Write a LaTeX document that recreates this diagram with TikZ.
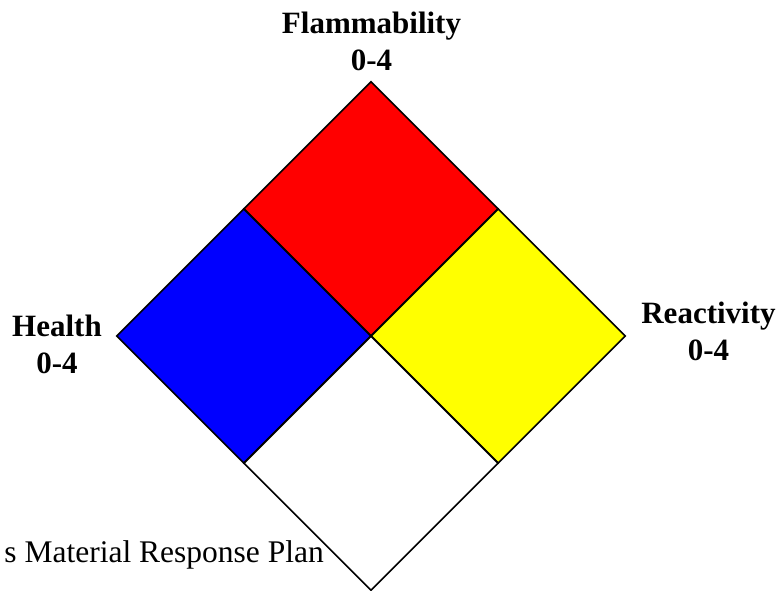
\documentclass[tikz,border=0pt]{standalone}
\usepackage{fontspec}
\setmainfont{Liberation Serif}
\usetikzlibrary{shapes.geometric}
\definecolor{fire}{HTML}{FF0000}
\definecolor{health}{HTML}{0000FF}
\definecolor{react}{HTML}{FFFF00}

\begin{document}
\begin{tikzpicture}[x=1pt,y=-1pt,
    quad/.style={diamond,draw=black,line width=1.6pt,inner sep=0pt,
                 minimum width=254.5pt,minimum height=254.5pt},
    lab/.style={font=\fontsize{31}{37}\selectfont\bfseries,align=center,inner sep=0pt},
    note/.style={font=\fontsize{31.5}{37}\selectfont,inner sep=0pt}]
  \useasboundingbox (0,0) rectangle (780,591);
  \node[quad,fill=fire]   (flam)  at (371,208.75) {};
  \node[quad,fill=health] (hlth)  at (243.75,336) {};
  \node[quad,fill=react]  (reac)  at (498.25,336) {};
  \node[quad,fill=white]  (spec)  at (371,463.25) {};

  % anchors sit on the baseline of the lower line
  \node[lab,anchor=base] (tflam) at (371.5,71)  {Flammability\\0-4};
  \node[lab,anchor=base] (thlth) at (57,373)    {Health\\0-4};
  \node[lab,anchor=base] (treac) at (708.5,360) {Reactivity\\0-4};
  \node[note,anchor=base east] (plan) at (324,562) {s Material Response Plan};
\end{tikzpicture}
\end{document}
